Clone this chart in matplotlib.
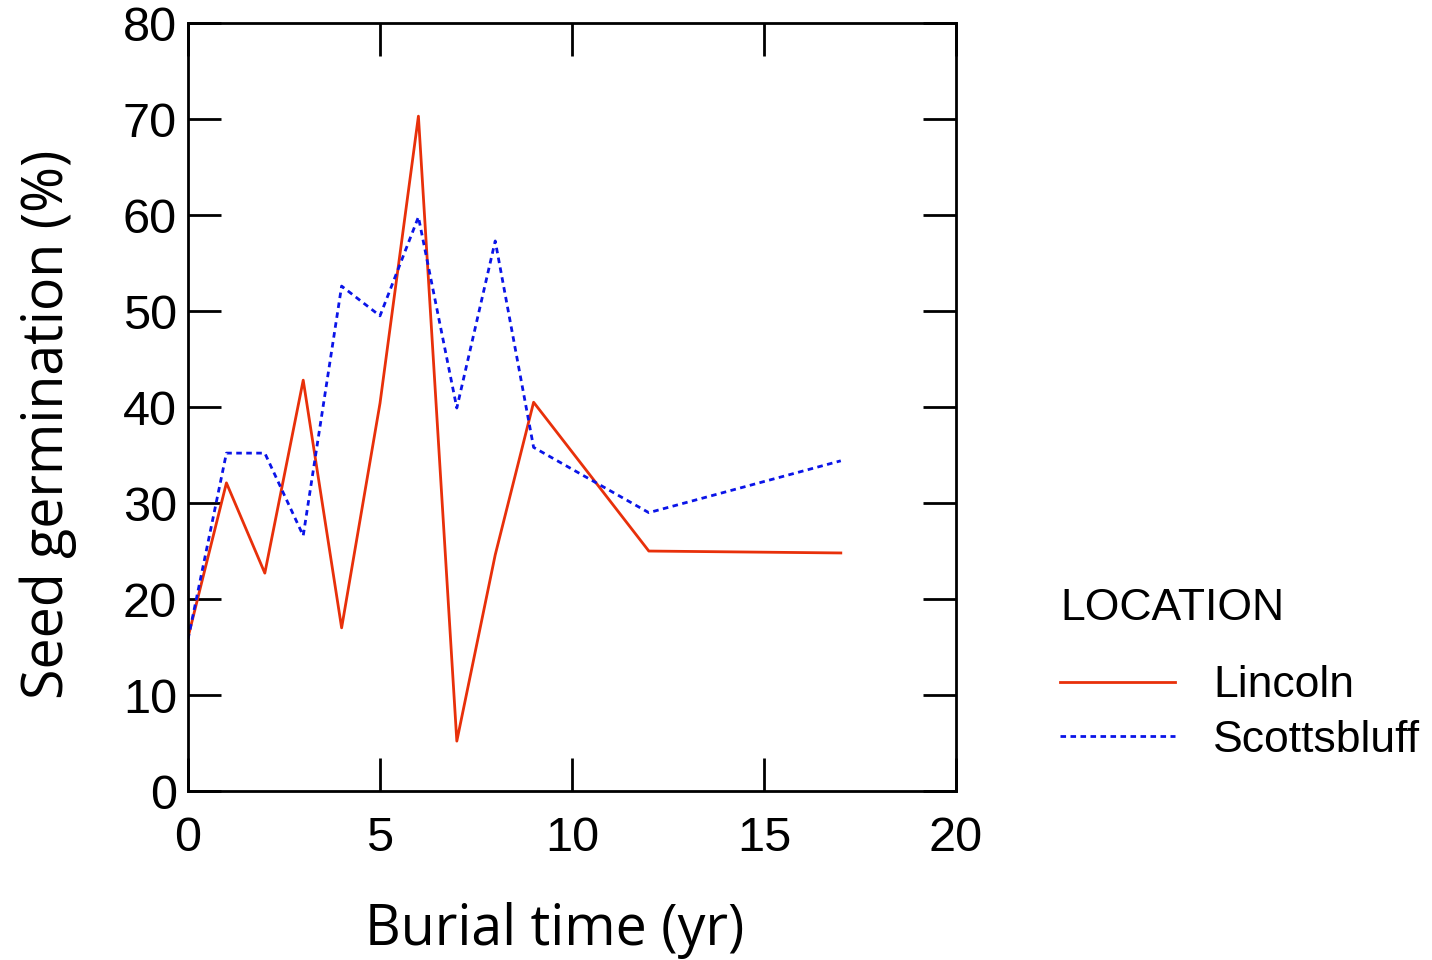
import matplotlib
matplotlib.use('Agg')
import matplotlib.pyplot as plt

#####################################################################
# data:
years = [0, 1, 2, 3, 4, 5, 6, 7, 8, 9, 12, 17]
lincoln = [16.0, 32.1, 22.7, 42.8, 17.0, 40.4, 70.3, 5.2, 24.6, 40.5, 25.0, 24.8]
scottsbluff = [15.8, 35.2, 35.2, 26.6, 52.6, 49.5, 59.8, 39.9, 57.3, 35.8, 29.0, 34.4]
series_names = ['Lincoln', 'Scottsbluff']
xticks = [0, 5, 10, 15, 20]
yticks = [0, 10, 20, 30, 40, 50, 60, 70, 80]

#####################################################################
# plot:
fig = plt.figure(figsize=(14.32, 9.6), dpi=100)
ax = fig.add_axes([0.1313, 0.176, 0.5363, 0.8])

ax.plot(years, lincoln, color='#e8300a', lw=2, label=series_names[0])
ax.plot(years, scottsbluff, color='#0a14e8', lw=2, ls=(0, (2, 1.6)), label=series_names[1])

#####################################################################
# format:
ax.set_xlim(0, 20)
ax.set_ylim(0, 80)
ax.set_xticks(xticks)
ax.set_yticks(yticks)
ax.tick_params(direction='in', length=24, width=2, top=True, right=True,
               labelsize=35)
ax.tick_params(axis='x', pad=18)
ax.tick_params(axis='y', pad=8)
for lab in ax.get_xticklabels() + ax.get_yticklabels():
    lab.set_family('Liberation Sans')
for sp in ax.spines.values():
    sp.set_linewidth(2)

ax.set_xlabel('Burial time (yr)', fontsize=40, family='Open Sans')
ax.set_ylabel('Seed germination (%)', fontsize=40, family='Open Sans')
ax.xaxis.set_label_coords(0.478, -0.145)
ax.yaxis.set_label_coords(-0.144, 0.477)

# legend title drawn separately (bigger gap than the entries)
fig.text(0.7405, 0.366, 'LOCATION', fontsize=32, family='Liberation Sans',
         ha='left', va='center')
leg = fig.legend(loc='upper left', bbox_to_anchor=(0.74, 0.307), frameon=False,
                 prop={'family': 'Liberation Sans', 'size': 32},
                 handlelength=2.6, handletextpad=0.85, labelspacing=0.3,
                 borderaxespad=0, borderpad=0)

fig.savefig('out.png', dpi=100)
